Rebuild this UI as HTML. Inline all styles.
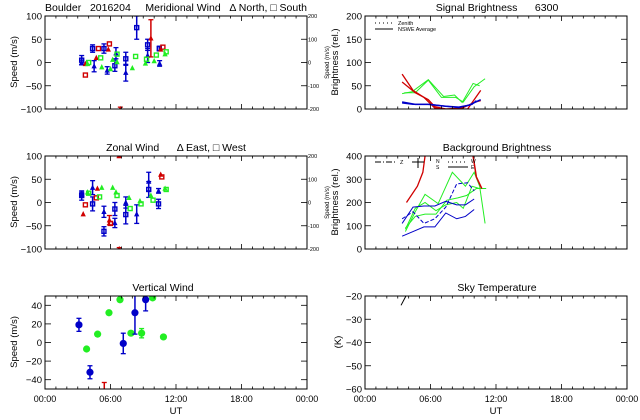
<!DOCTYPE html>
<html><head><meta charset="utf-8">
<style>
html,body{margin:0;padding:0;background:#fff;}
svg{display:block;font-family:"Liberation Sans",sans-serif;}
</style></head>
<body>
<svg id="c" width="640" height="420" viewBox="0 0 640 420"></svg>
<script>
// ---------- data ----------
const xTickLabels = ["00:00","06:00","12:00","18:00","00:00"];
const speedTicks = [100,50,0,-50,-100];
const rightSpeedTicks = ["200","100","0","-100","-200"];
const vertTicks = [40,20,0,-20,-40];
const sigTicks = [200,150,100,50,0];
const bgTicks = [400,300,200,100,0];
const tempTicks = [-20,-30,-40,-50,-60];

// meridional: [hour, value, err]
const merBlueSq = [[3.36,5,10],[4.36,30,8],[5.4,30,10],[6.4,-7,12],[7.4,8,14],[8.4,75,25],[9.4,38,12],[10.47,30,5]];
const merBlueTri = [[3.36,0,5],[4.5,-8,12],[5.7,-17,8],[6.5,20,12],[7.4,-22,18],[9.4,15,15],[10.5,-2,6]];
const merRedSq = [[3.7,-27,0],[4.9,30,0],[5.9,40,0],[10.8,33,0]];
const merRedTri = [[3.7,-3,0],[4.7,10,0],[5.8,28,0],[6.9,-100,4],[9.7,52,40],[10.6,28,0]];
const merGreenSq = [[4.0,0,0],[5.1,10,0],[6.6,18,0],[8.3,13,0],[9.3,7,0],[10.2,16,0],[11.1,23,0]];
const merGreenTri = [[3.9,-3,0],[5.2,-10,0],[6.0,-14,0],[6.2,6,0],[6.6,1,0],[8.0,-12,0],[9.2,-2,0],[10.0,3,0],[11.0,18,0]];
// zonal
const zonBlueSq = [[3.36,15,10],[4.36,-3,15],[5.4,-62,10],[6.4,-14,14],[7.4,-26,20],[9.5,28,17],[10.4,-3,10]];
const zonBlueTri = [[3.36,17,5],[4.36,32,15],[5.4,-20,12],[6.4,-44,10],[7.4,0,12],[8.4,-25,20],[9.5,45,20],[10.4,25,5]];
const zonRedSq = [[3.7,-5,0],[4.7,10,0],[6.0,-45,0],[10.7,55,0]];
const zonRedTri = [[3.5,-25,0],[4.8,30,0],[5.9,-38,10],[6.8,100,3],[6.8,-100,3],[10.6,60,0]];
const zonGreenSq = [[4.0,20,0],[5.0,12,0],[6.6,15,0],[7.8,-13,0],[8.8,-3,0],[9.9,5,0],[11.1,28,0]];
const zonGreenTri = [[3.9,22,0],[5.2,32,0],[6.2,32,0],[6.5,22,0],[7.7,10,0],[8.7,3,0],[9.7,15,0],[11.0,30,0]];
// vertical
const vertBlue = [[3.11,19,7],[4.12,-32,7],[7.17,-1,11],[8.24,32,23],[9.22,46,12]];
const vertGreen = [[3.81,-7,0],[4.82,9,0],[5.86,32,0],[6.87,46,0],[7.87,10,0],[8.85,10,5],[9.86,48,0],[10.85,6,0]];
const vertRed = [[5.43,-50,7]];
// signal brightness lines: [hour, value]
const sigGreenA = [[3.4,33],[4.3,37],[5.8,63],[7.2,27],[8.2,30],[8.9,14],[9.9,55],[10.5,50]];
const sigGreenB = [[3.6,35],[4.6,35],[5.8,62],[7.0,25],[8.3,25],[9.0,15],[10.0,48],[11.0,65]];
const sigRedA = [[3.4,75],[4.4,40],[5.4,25],[6.4,2],[7.4,0],[8.4,0],[9.4,0],[10.6,40]];
const sigRedB = [[3.4,58],[4.6,35],[5.8,20],[6.4,5],[7.4,0],[8.9,2],[10.1,15],[10.6,18]];
const sigBlueA = [[3.4,15],[4.6,10],[5.8,10],[7.4,6],[8.6,4],[9.5,8],[10.6,20]];
const sigBlueB = [[3.4,13],[4.4,10],[6.0,10],[7.4,6],[8.6,3],[9.8,10],[10.2,18]];
// background brightness
const bgGreen1 = [[3.7,75],[4.6,160],[5.5,235],[6.7,195],[8.0,330],[9.2,270],[10.0,330],[10.5,270],[11.0,110]];
const bgGreen2 = [[3.7,85],[4.6,175],[5.5,200],[6.5,165],[7.4,190],[8.4,200],[9.0,175],[9.8,270],[10.5,260],[11.1,260]];
const bgGreen3 = [[3.7,90],[4.6,140],[5.5,150],[6.5,150],[7.5,210],[8.5,220],[9.3,230],[10.2,260],[11.0,260]];
const bgBlue1 = [[3.4,110],[4.4,180],[5.4,185],[6.4,185],[7.4,205],[8.4,190],[9.2,190],[10.0,215]];
const bgBlue2 = [[3.4,55],[4.4,75],[5.4,95],[6.4,95],[7.4,155],[8.4,130],[9.2,140],[10.0,170]];
const bgBlue3 = [[3.4,130],[4.4,160],[5.4,110],[6.4,130],[7.4,180],[8.4,280],[9.4,285],[10.0,250]];
const bgRed1 = [[3.8,200],[4.8,270],[5.3,330],[5.5,400]];
const bgRed2 = [[9.9,400],[10.2,310],[10.7,260]];
// sky temperature
const skyTemp = [[3.3,-24],[3.75,-20]];

// ---------- drawing ----------
const NS="http://www.w3.org/2000/svg";
const svg=document.getElementById('c');
const BLUE="#0000c8", RED="#d00000", GREEN="#22ee22";
function el(tag,attrs,parent){const e=document.createElementNS(NS,tag);for(const k in attrs)e.setAttribute(k,attrs[k]);(parent||svg).appendChild(e);return e;}
function txt(s,x,y,size,anchor,parent,rot){const t=el('text',{x:x,y:y,'font-size':size,'text-anchor':anchor||'middle',fill:'#000'},parent);if(rot)t.setAttribute('transform','rotate(-90 '+x+' '+y+')');t.textContent=s;return t;}

function panel(name,x0,y0,x1,y1,ymin,ymax,yticks,showX){
  const g=el('g',{});
  
  
  const P={x0,y0,x1,y1,g,
    X:h=>x0+(h/24)*(x1-x0),
    Y:v=>y1-(v-ymin)/(ymax-ymin)*(y1-y0)};
  const cid='clip-'+name;
  const cp=el('clipPath',{id:cid},g);el('rect',{x:x0,y:y0,width:x1-x0,height:y1-y0},cp);
  P.data=el('g',{'clip-path':'url(#'+cid+')'},g);
  el('rect',{x:x0,y:y0,width:x1-x0,height:y1-y0,fill:'none',stroke:'#000','stroke-width':1},g);
  for(let h=1;h<24;h++){
    const L=(h%6==0)?5:2.5, x=P.X(h);
    el('line',{x1:x,y1:y1,x2:x,y2:y1-L,stroke:'#000','stroke-width':0.8},g);
    el('line',{x1:x,y1:y0,x2:x,y2:y0+L,stroke:'#000','stroke-width':0.8},g);
  }
  yticks.forEach(v=>{const y=P.Y(v);
    el('line',{x1:x0,y1:y,x2:x0+6,y2:y,stroke:'#000','stroke-width':0.8},g);
    el('line',{x1:x1,y1:y,x2:x1-6,y2:y,stroke:'#000','stroke-width':0.8},g);
    const t=txt(String(v).replace('-','\u2212'),x0-3,y+3.5,9.5,'end',g);
    
    
  });
  if(showX){xTickLabels.forEach((s,i)=>{const t=txt(s,P.X(i*6),y1+13,9,'middle',g);
    
    });
    const u=txt('UT',(x0+x1)/2,y1+25,9.5,'middle',g);
    
    }
  return P;
}
function errbar(P,h,v,e,color){if(!e)return;const x=P.X(h),a=P.Y(v+e),b=P.Y(v-e);
  el('line',{x1:x,y1:a,x2:x,y2:b,stroke:color,'stroke-width':1.5},P.data);
  el('line',{x1:x-2.5,y1:a,x2:x+2.5,y2:a,stroke:color,'stroke-width':1.3},P.data);
  el('line',{x1:x-2.5,y1:b,x2:x+2.5,y2:b,stroke:color,'stroke-width':1.3},P.data);}
function squares(P,arr,color,nm){arr.forEach(d=>{errbar(P,d[0],d[1],d[2],color);
  const r=el('rect',{x:P.X(d[0])-2,y:P.Y(d[1])-2,width:4,height:4,fill:'none',stroke:color,'stroke-width':1.4},P.data);
  
  });}
function tris(P,arr,color,nm){arr.forEach(d=>{errbar(P,d[0],d[1],d[2],color);
  const x=P.X(d[0]),y=P.Y(d[1]);
  const t=el('polygon',{points:(x-2)+','+(y+1.8)+' '+(x+2)+','+(y+1.8)+' '+x+','+(y-2.2),fill:color,stroke:color,'stroke-width':0.8},P.data);
  
  });}
function dots(P,arr,color,nm){arr.forEach(d=>{errbar(P,d[0],d[1],d[2],color);
  const c=el('circle',{cx:P.X(d[0]),cy:P.Y(d[1]),r:3.6,fill:color},P.data);
  
  });}
function line(P,arr,color,nm,w,dash){const l=el('polyline',{points:arr.map(d=>P.X(d[0])+','+P.Y(d[1])).join(' '),fill:'none',stroke:color,'stroke-width':w||1},P.data);
  if(dash)l.setAttribute('stroke-dasharray',dash);
  
  }
function rightSpeedAxis(P){rightSpeedTicks.forEach((s,i)=>{const y=P.y0+i*(P.y1-P.y0)/4;
  txt(s,P.x1+1,y+2,5.5,'start',P.g);});
  const t=txt('Speed (m/s)',P.x1+22,(P.y0+P.y1)/2,6,'middle',P.g,true);
  
  }

function title(s,x,y,nm){const t=txt(s,x,y,10.5,'middle');t.setAttribute('xml:space','preserve');t.style.whiteSpace='pre';}
title('Boulder   2016204     Meridional Wind   \u0394 North, \u25A1 South',176,11,'meridional-title');
title('Zonal Wind      \u0394 East, \u25A1 West',176,151,'zonal-title');
title('Vertical Wind',163,291,'vertical-title');
title('Signal Brightness      6300',497,11,'signal-title');
title('Background Brightness',497,151,'background-title');
title('Sky Temperature',497,291,'sky-temp-title');

// meridional
let P=panel('meridional-panel',45,16,307,109,-100,100,speedTicks,false);
squares(P,merBlueSq,BLUE,'mer-blue-square');tris(P,merBlueTri,BLUE,'mer-blue-tri');
squares(P,merRedSq,RED,'mer-red-square');tris(P,merRedTri,RED,'mer-red-tri');
squares(P,merGreenSq,GREEN,'mer-green-square');tris(P,merGreenTri,GREEN,'mer-green-tri');
rightSpeedAxis(P);
let t=txt('Speed (m/s)',17,62,9.5,'middle',null,true);

// zonal
P=panel('zonal-panel',45,156,307,249,-100,100,speedTicks,false);
squares(P,zonBlueSq,BLUE,'zon-blue-square');tris(P,zonBlueTri,BLUE,'zon-blue-tri');
squares(P,zonRedSq,RED,'zon-red-square');tris(P,zonRedTri,RED,'zon-red-tri');
squares(P,zonGreenSq,GREEN,'zon-green-square');tris(P,zonGreenTri,GREEN,'zon-green-tri');
rightSpeedAxis(P);
t=txt('Speed (m/s)',17,202,9.5,'middle',null,true);

// vertical
P=panel('vertical-panel',45,296,307,389,-50,50,vertTicks,true);
dots(P,vertGreen,GREEN,'vert-green-point');dots(P,vertBlue,BLUE,'vert-blue-point');
vertRed.forEach(d=>errbar(P,d[0],d[1],d[2],RED));
t=txt('Speed (m/s)',17,342,9.5,'middle',null,true);

// signal brightness
P=panel('signal-panel',365,16,627,109,0,200,sigTicks,false);
line(P,sigGreenA,GREEN,'sig-green-line');line(P,sigGreenB,GREEN,'sig-green-line');
line(P,sigRedA,RED,'sig-red-line',1.3);line(P,sigRedB,RED,'sig-red-line',1.3);
line(P,sigBlueA,BLUE,'sig-blue-line',1.5);line(P,sigBlueB,BLUE,'sig-blue-line',1.3);
el('line',{x1:375,y1:23,x2:393,y2:23,stroke:'#000','stroke-dasharray':'1,3'});
el('line',{x1:375,y1:29,x2:393,y2:29,stroke:'#000'});
txt('Zenith',398,25,5.5,'start');txt('NSWE Average',398,31,5.5,'start');
t=txt('Brightness (rel.)',338,62,9.5,'middle',null,true);

// background brightness
P=panel('background-panel',365,156,627,249,0,400,bgTicks,false);
line(P,bgGreen1,GREEN,'bg-green-line');line(P,bgGreen2,GREEN,'bg-green-line');line(P,bgGreen3,GREEN,'bg-green-line');
line(P,bgBlue1,BLUE,'bg-blue-line');line(P,bgBlue2,BLUE,'bg-blue-line');line(P,bgBlue3,BLUE,'bg-blue-line',1,'4,2');
line(P,bgRed1,RED,'bg-red-line',1.3);line(P,bgRed2,RED,'bg-red-line',1.5);
el('line',{x1:375,y1:162,x2:397,y2:162,stroke:'#000','stroke-dasharray':'6,2,1,2'});
txt('Z',400,164,5.5,'start');
el('line',{x1:412,y1:162,x2:424,y2:162,stroke:'#000'});el('line',{x1:418,y1:158,x2:418,y2:168,stroke:'#000'});
txt('N',436,163,5,'start');txt('S',436,169,5,'start');
el('line',{x1:448,y1:162,x2:468,y2:162,stroke:'#000','stroke-dasharray':'1,3'});
el('line',{x1:448,y1:167,x2:468,y2:167,stroke:'#000'});
txt('W',471,163,5,'start');txt('E',471,169,5,'start');
t=txt('Brightness (rel.)',338,202,9.5,'middle',null,true);

// sky temperature
P=panel('sky-temp-panel',365,296,627,389,-60,-20,tempTicks,true);
line(P,skyTemp,'#000','sky-temp-line');
t=txt('(K)',341,342,9.5,'middle',null,true);
</script>
</body></html>
